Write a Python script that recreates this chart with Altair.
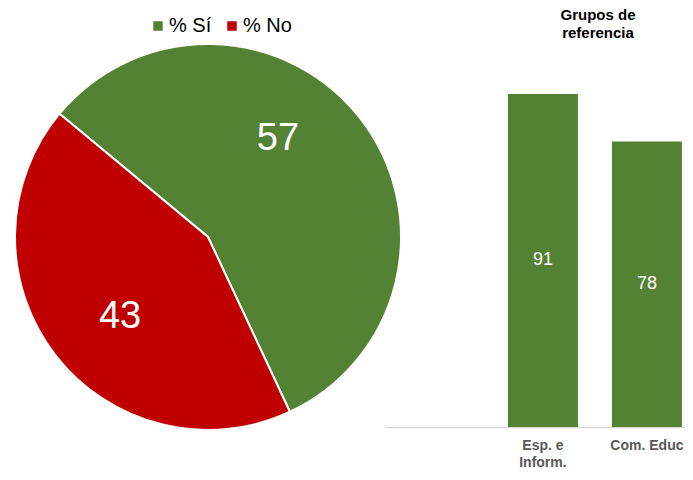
import math
import altair as alt
import pandas as pd

# ---- data ----
pie_labels = ["% Sí", "% No"]
pie_values = [57, 43]
pie_colors = ["#548235", "#C00000"]

bar_groups = ["", "Esp. e Inform.", "Com. Educ"]
bar_cats = ["Esp. e Inform.", "Com. Educ"]
bar_values = [91, 78]

pie_df = pd.DataFrame({"cat": pie_labels, "val": pie_values, "ord": [0, 1]})
bar_df = pd.DataFrame({"grp": bar_cats, "val": bar_values})

FONT = "Liberation Sans"
start = -50.3 * math.pi / 180
CX, CY = 200, 176

theta = alt.Theta("val:Q", stack=True,
                  scale=alt.Scale(range=[start, start + 2 * math.pi]))
base = alt.Chart(pie_df).encode(theta=theta, order=alt.Order("ord:Q"))

arcs = base.mark_arc(outerRadius=193, stroke="white", strokeWidth=2).encode(
    color=alt.Color("cat:N",
                    scale=alt.Scale(domain=pie_labels, range=pie_colors),
                    sort=pie_labels,
                    legend=alt.Legend(orient="none", legendX=140, legendY=-45,
                                      direction="horizontal", title=None,
                                      symbolType="square", symbolSize=90,
                                      symbolStrokeWidth=0,
                                      labelFont=FONT, labelFontSize=20,
                                      labelColor="#000000",
                                      columnPadding=10, labelOffset=1)),
    x=alt.value(CX), y=alt.value(CY),
)

lbl_si = base.mark_text(radius=120, fontSize=38, font=FONT, dx=-25, dy=-25).encode(
    text="val:Q", x=alt.value(CX), y=alt.value(CY),
    color=alt.condition(alt.datum.ord == 0, alt.value("white"), alt.value("transparent")),
)
lbl_no = base.mark_text(radius=120, fontSize=38, font=FONT, dx=7, dy=7).encode(
    text="val:Q", x=alt.value(CX), y=alt.value(CY),
    color=alt.condition(alt.datum.ord == 1, alt.value("white"), alt.value("transparent")),
)

pie = alt.layer(arcs, lbl_si, lbl_no).properties(width=360, height=366)

xenc = alt.X("grp:N",
             scale=alt.Scale(domain=bar_groups, paddingInner=0.327,
                             paddingOuter=0.106, align=0.86),
             axis=alt.Axis(title=None, ticks=False, labelAngle=0,
                           domainColor="#d9d9d9", domainWidth=1.5,
                           labelFont=FONT, labelFontSize=14,
                           labelFontWeight="bold", labelColor="#595959",
                           labelPadding=11, labelLineHeight=17,
                           labelExpr="datum.label == 'Esp. e Inform.' ? ['Esp. e', 'Inform.'] : datum.label"))
yenc = alt.Y("val:Q", scale=alt.Scale(domain=[0, 100]), axis=None)

bar_base = alt.Chart(bar_df).encode(x=xenc)
bars = bar_base.mark_bar(color="#548235").encode(y=yenc)
bar_text = bar_base.mark_text(color="white", fontSize=18, font=FONT).encode(
    y=alt.Y("mid:Q", scale=alt.Scale(domain=[0, 100]), axis=None),
    text="val:Q",
).transform_calculate(mid="datum.val / 2")

bar_chart = alt.layer(bars, bar_text).properties(
    width=300, height=366,
    title=alt.TitleParams(text=["Grupos de", "referencia"], font=FONT,
                          fontSize=15, fontWeight="bold", color="#000000",
                          anchor="middle", dx=63, dy=3, offset=8, lineHeight=18,
                          baseline="bottom"),
)

chart = alt.hconcat(pie, bar_chart, spacing=17, bounds="flush").properties(
    padding=0
).configure_view(stroke=None)

chart.save("out.html", embed_options={"renderer": "svg", "actions": False})
